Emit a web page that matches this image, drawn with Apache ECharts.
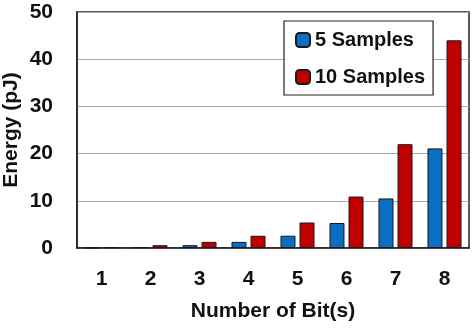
<!DOCTYPE html>
<html>
<head>
<meta charset="utf-8">
<script src="https://cdn.jsdelivr.net/npm/echarts@6/dist/echarts.min.js"></script>
<style>
  html, body { margin: 0; padding: 0; background: #fff; }
  #chart { width: 474px; height: 329px; }
</style>
</head>
<body>
<div id="chart"></div>
<script>
// energy vs number of bits, two sample counts
const bits = ['1', '2', '3', '4', '5', '6', '7', '8'];
const samples5 = [0.08, 0.16, 0.6, 1.3, 2.6, 5.3, 10.5, 21.1];
const samples10 = [0.16, 0.6, 1.3, 2.6, 5.4, 10.9, 22, 44];
const yTicks = { min: 0, max: 50, step: 10 };

const FONT = '"Liberation Sans", Arial, sans-serif';
const boldText = { fontFamily: FONT, fontWeight: 'bold', fontSize: 21, color: '#111' };

const chart = echarts.init(document.getElementById('chart'));

chart.setOption({
  animation: false,
  grid: {
    left: 77, top: 12, right: 5, bottom: 81,
    outerBoundsMode: 'none',
    containLabel: false,
    show: true, borderColor: '#222', borderWidth: 1.5, backgroundColor: 'transparent'
  },
  legend: {
    orient: 'vertical',
    left: 284, top: 21,
    padding: [9, 8, 8, 11],
    itemGap: 17,
    itemWidth: 14, itemHeight: 14,
    borderColor: '#222', borderWidth: 1.2,
    backgroundColor: '#fff',
    textStyle: Object.assign({}, boldText, { fontSize: 20 }),
    data: ['5 Samples', '10 Samples']
  },
  xAxis: {
    type: 'category',
    data: bits,
    name: 'Number of Bit(s)',
    nameLocation: 'middle',
    nameGap: 53,
    nameMoveOverlap: false,
    nameTextStyle: boldText,
    axisLine: { lineStyle: { color: '#222', width: 1.5 } },
    axisTick: { show: false },
    axisLabel: Object.assign({ margin: 21 }, boldText)
  },
  yAxis: {
    type: 'value',
    min: yTicks.min, max: yTicks.max, interval: yTicks.step,
    name: 'Energy (pJ)',
    nameLocation: 'middle',
    nameGap: 55,
    nameMoveOverlap: false,
    nameTextStyle: boldText,
    axisLine: { show: true, lineStyle: { color: '#222', width: 1.5 } },
    axisTick: { show: false },
    axisLabel: Object.assign({ margin: 24 }, boldText),
    splitLine: { lineStyle: { color: '#aaa', width: 1 } }
  },
  series: [
    {
      name: '5 Samples', type: 'bar', data: samples5,
      barWidth: 15, barGap: '27%',
      itemStyle: { color: '#0A6FC2', borderColor: '#1a1a1a', borderWidth: 1 }
    },
    {
      name: '10 Samples', type: 'bar', data: samples10,
      barWidth: 15, barGap: '27%',
      itemStyle: { color: '#C00000', borderColor: '#1a1a1a', borderWidth: 1 }
    }
  ]
});
</script>
</body>
</html>
